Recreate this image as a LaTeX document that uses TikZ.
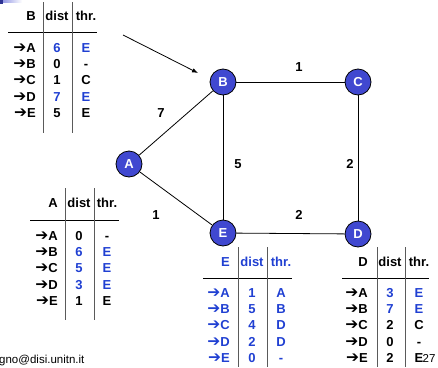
\documentclass[tikz,border=0pt]{standalone}
\usepackage{fontspec}
\setmainfont{Liberation Sans}
\newfontfamily\arrfont{DejaVu Sans}
\usetikzlibrary{arrows.meta}
\definecolor{nodeblue}{RGB}{64,72,208}
\definecolor{txtblue}{RGB}{32,64,210}
\definecolor{rulegray}{RGB}{90,90,90}
\newcommand\ar{{\arrfont\mdseries\fontsize{15.5}{15}\selectfont ➔}}
\newcommand\tabrow[9]{%
  \node[tt,anchor=base east] (#1l) at (#2,#5) {#6};
  \node[tt,anchor=base,text=#9] (#1d) at (#3,#5) {#7};
  \node[tt,anchor=base,text=#9] (#1t) at (#4,#5) {#8};}
\begin{document}
\begin{tikzpicture}[x=1pt,y=-1pt,
  router/.style={circle,draw=black,fill=nodeblue,line width=0.8pt,minimum size=26pt,inner sep=0pt,text=white,font=\fontsize{13}{15}\selectfont\bfseries},
  tt/.style={inner sep=0pt,font=\fontsize{13}{15}\selectfont\bfseries},
  lbl/.style={inner sep=0pt,font=\fontsize{13}{15}\selectfont\bfseries},
  link/.style={draw=black,line width=0.8pt},
  vrule/.style={draw=rulegray,line width=0.9pt},
  hrule/.style={draw=black,line width=0.9pt},
  plain/.style={inner sep=0pt,font=\fontsize{11.5}{13}\selectfont}]
\useasboundingbox (0,0) rectangle (438,367);
% corner mark
\fill[nodeblue!70!black] (0,0) rectangle (3,4);
\shade[left color=nodeblue!55,right color=white] (3,0) rectangle (22,2.5);
% routers
\node[router] (B) at (223,82) {B};
\node[router] (C) at (358,82) {C};
\node[router] (A) at (129,164) {A};
\node[router] (E) at (223,233) {E};
\node[router] (D) at (358,234) {D};
\draw[link] (A) -- (B);
\draw[link] (A) -- (E);
\draw[link] (B) -- (C);
\draw[link] (B) -- (E);
\draw[link] (C) -- (D);
\draw[link] (E) -- (D);
\node[lbl] (wBC) at (299,67) {1};
\node[lbl] (wAB) at (161,113) {7};
\node[lbl] (wBE) at (238,164) {5};
\node[lbl] (wCD) at (350,164) {2};
\node[lbl] (wAE) at (156,215) {1};
\node[lbl] (wED) at (299,215) {2};
% pointer arrow
\coordinate (arrS) at (123,35);
\coordinate (arrE) at (198,73);
\draw[line width=0.8pt,-{Latex[length=6pt,width=4.5pt]}] (arrS) -- (arrE);
% table B
\node[tt,anchor=base east] (bH) at (36,20) {B};
\node[tt,anchor=base] (bHd) at (57,20) {dist};
\node[tt,anchor=base] (bHt) at (86,20) {thr.};
\draw[hrule] (8,32) -- (97,32);
\draw[vrule] (43,2) -- (43,133);
\draw[vrule] (72,2) -- (72,133);
\tabrow{bA}{36}{57}{86}{52.5}{\ar A}{6}{E}{txtblue}
\tabrow{bB}{36}{57}{86}{68.5}{\ar B}{0}{-}{black}
\tabrow{bC}{36}{57}{86}{84.5}{\ar C}{1}{C}{black}
\tabrow{bD}{36}{57}{86}{101}{\ar D}{7}{E}{txtblue}
\tabrow{bE}{36}{57}{86}{117}{\ar E}{5}{E}{black}
% table A
\node[tt,anchor=base east] (aH) at (58,207.5) {A};
\node[tt,anchor=base] (aHd) at (79,207.5) {dist};
\node[tt,anchor=base] (aHt) at (107,207.5) {thr.};
\draw[hrule] (30,220) -- (119,220);
\draw[vrule] (65,188) -- (65,320);
\draw[vrule] (94,188) -- (94,320);
\tabrow{aA}{58}{79}{107}{240.5}{\ar A}{0}{-}{black}
\tabrow{aB}{58}{79}{107}{256.5}{\ar B}{6}{E}{txtblue}
\tabrow{aC}{58}{79}{107}{272.5}{\ar C}{5}{E}{txtblue}
\tabrow{aD}{58}{79}{107}{289.5}{\ar D}{3}{E}{txtblue}
\tabrow{aE}{58}{79}{107}{305.5}{\ar E}{1}{E}{black}
% table E
\node[tt,anchor=base east,text=txtblue] (eH) at (230,266.5) {E};
\node[tt,anchor=base,text=txtblue] (eHd) at (252,266.5) {dist};
\node[tt,anchor=base,text=txtblue] (eHt) at (281,266.5) {thr.};
\draw[hrule] (203,278) -- (292,278);
\draw[vrule] (238,247) -- (238,367);
\draw[vrule] (267,247) -- (267,367);
\tabrow{eA}{230}{252}{281}{297.5}{\color{txtblue}\ar A}{1}{A}{txtblue}
\tabrow{eB}{230}{252}{281}{313.5}{\color{txtblue}\ar B}{5}{B}{txtblue}
\tabrow{eC}{230}{252}{281}{329.5}{\color{txtblue}\ar C}{4}{D}{txtblue}
\tabrow{eD}{230}{252}{281}{346}{\color{txtblue}\ar D}{2}{D}{txtblue}
\tabrow{eE}{230}{252}{281}{362.5}{\color{txtblue}\ar E}{0}{-}{txtblue}
% table D
\node[tt,anchor=base east] (dH) at (368,266.5) {D};
\node[tt,anchor=base] (dHd) at (390,266.5) {dist};
\node[tt,anchor=base] (dHt) at (419,266.5) {thr.};
\draw[hrule] (342,278) -- (429,278);
\draw[vrule] (377,247) -- (377,367);
\draw[vrule] (405,247) -- (405,367);
\tabrow{dA}{368}{390}{419}{297.5}{\ar A}{3}{E}{txtblue}
\tabrow{dB}{368}{390}{419}{313.5}{\ar B}{7}{E}{txtblue}
\tabrow{dC}{368}{390}{419}{329.5}{\ar C}{2}{C}{black}
\tabrow{dD}{368}{390}{419}{346}{\ar D}{0}{-}{black}
\tabrow{dE}{368}{390}{419}{362.5}{\ar E}{2}{E}{black}
% footer
\node[plain,anchor=base west] (foot) at (-1,363) {gno@disi.unitn.it};
\node[plain,anchor=base west] (pnum) at (422.5,362) {27};
\end{tikzpicture}
\end{document}
